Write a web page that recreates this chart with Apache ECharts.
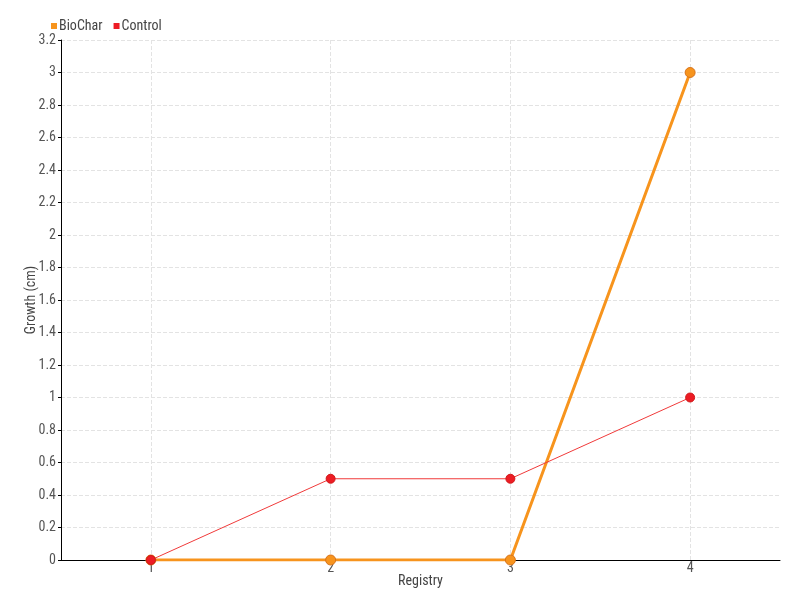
<!DOCTYPE html>
<html><head><meta charset="utf-8">
<script src="https://cdn.jsdelivr.net/npm/echarts@6/dist/echarts.min.js"></script>
<style>html,body{margin:0;padding:0;background:#fff}#c{width:800px;height:600px}</style>
</head><body><div id="c"></div>
<script>
var categories = ['1', '2', '3', '4'];
var bioChar = [0, 0, 0, 3];
var control = [0, 0.5, 0.5, 1];
var seriesNames = ['BioChar', 'Control'];

var font = '"Roboto Condensed", Roboto, sans-serif';
var chart = echarts.init(document.getElementById('c'));
chart.setOption({
  backgroundColor: '#fff',
  textStyle: { fontFamily: font },
  legend: {
    left: 46, top: 14, itemWidth: 6, itemHeight: 6, itemGap: 11, icon: 'rect',
    textStyle: { fontFamily: font, fontSize: 14, color: '#444', padding: [0, 0, 0, -3] },
    itemStyle: { borderWidth: 0 },
    data: seriesNames
  },
  grid: { left: 61, right: 20, top: 40, bottom: 40 },
  xAxis: {
    type: 'category', data: categories, boundaryGap: true,
    name: 'Registry', nameLocation: 'middle', nameGap: 14, nameMoveOverlap: false,
    nameTextStyle: { fontFamily: font, fontSize: 14, color: '#444' },
    axisLine: { lineStyle: { color: '#000' } },
    axisTick: { show: false, alignWithLabel: true },
    axisLabel: { fontFamily: font, fontSize: 14, color: '#555', margin: 1 },
    splitLine: { show: true, alignWithLabel: true, lineStyle: { type: 'dashed', color: '#e3e3e3' } }
  },
  yAxis: {
    type: 'value', min: 0, max: 3.2, interval: 0.2,
    name: 'Growth (cm)', nameLocation: 'middle', nameGap: 23, nameMoveOverlap: false,
    nameTextStyle: { fontFamily: font, fontSize: 14, color: '#444' },
    axisLine: { show: true, lineStyle: { color: '#000' } },
    axisTick: { show: true, length: 3, lineStyle: { color: '#000' } },
    axisLabel: { fontFamily: font, fontSize: 14, color: '#555', margin: 5 },
    splitLine: { show: true, lineStyle: { type: 'dashed', color: '#e3e3e3' } }
  },
  series: [
    {
      name: 'BioChar', type: 'line', data: bioChar,
      symbol: 'circle', symbolSize: 10,
      itemStyle: { color: '#f7941d', borderColor: '#d8731a', borderWidth: 1 },
      lineStyle: { color: '#f7941d', width: 3 },
      animation: false
    },
    {
      name: 'Control', type: 'line', data: control,
      symbol: 'circle', symbolSize: 9,
      itemStyle: { color: '#ed1c24', borderColor: '#d01a1a', borderWidth: 1 },
      lineStyle: { color: '#f03a3a', width: 1 },
      animation: false
    }
  ]
});
</script></body></html>
